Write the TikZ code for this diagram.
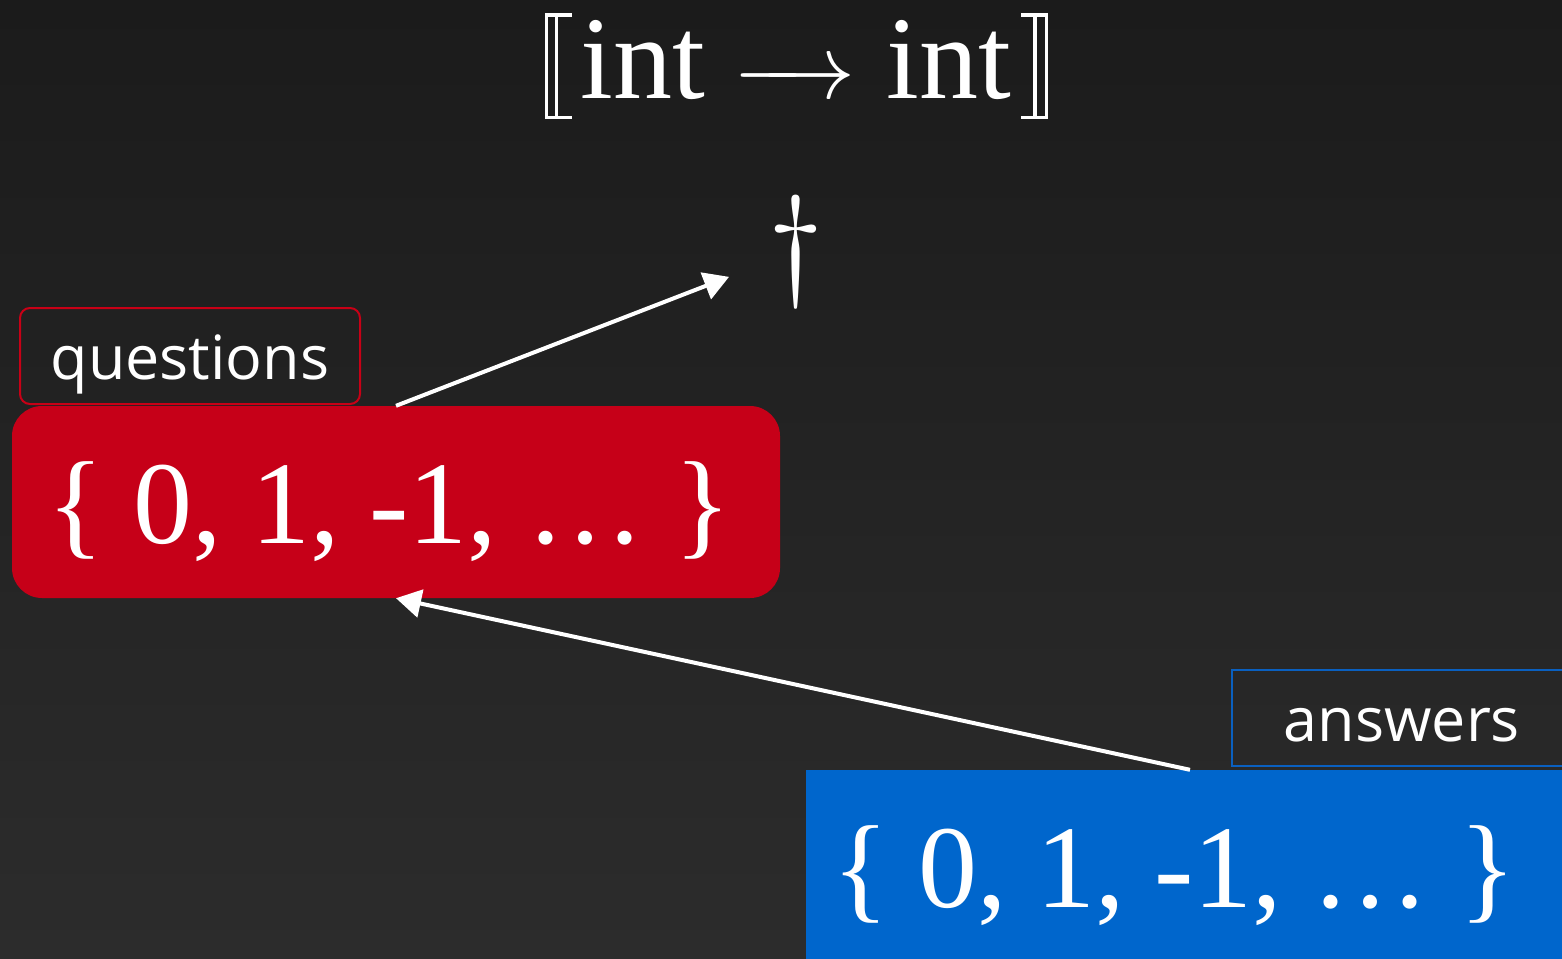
\RequirePackage{fix-cm}
\documentclass[tikz,border=0pt]{standalone}
\usepackage{fontspec}
\setmainfont{Liberation Serif}
\newfontfamily\lblfont{Open Sans}
\usetikzlibrary{arrows.meta}
\definecolor{bgtop}{RGB}{27,27,27}
\definecolor{bgbot}{RGB}{44,44,44}
\definecolor{qred}{RGB}{198,0,24}
\definecolor{qredline}{RGB}{200,0,22}
\definecolor{ablue}{RGB}{0,102,204}
\definecolor{abluel}{RGB}{10,96,192}
\tikzset{
  bigtext/.style={text=white,inner sep=0pt,font=\fontsize{118}{118}\selectfont},
  setbox/.style={inner sep=0pt,minimum width=768pt,minimum height=192pt,text=white,
    font=\fontsize{118}{118}\selectfont,text height=100pt,text depth=18pt},
  lblbox/.style={line width=2pt,inner sep=0pt,minimum width=340pt,minimum height=96pt,
    text=white,font=\lblfont\fontsize{61}{61}\selectfont,text height=46pt,text depth=0pt},
  brk/.style={draw=white,line width=3.5pt},
  arr/.style={draw=white,line width=4pt,-{Triangle[length=25pt,width=28pt]}}
}
\begin{document}
\begin{tikzpicture}[x=1pt,y=-1pt]
\useasboundingbox (0,0) rectangle (1562,958);
\clip (0,0) rectangle (1562,958);
\shade[top color=bgtop,bottom color=bgbot] (0,0) rectangle (1562,958);
% title
\draw[brk,line cap=butt] (572,15) -- (546.5,15) -- (546.5,117.5) -- (572,117.5);
\draw[brk] (556.5,15) -- (556.5,117.5);
\draw[brk,line cap=butt] (1021,15) -- (1046.5,15) -- (1046.5,117.5) -- (1021,117.5);
\draw[brk] (1035,15) -- (1035,117.5);
\node[bigtext,anchor=base west] (int1) at (580,98) {int};
\node[text=white,inner sep=0pt,anchor=base west,font=\fontsize{92}{92}\selectfont] (to) at (733,98) {$\relbar\mkern-8mu\rightarrow$};
\node[bigtext,anchor=base west] (int2) at (886,98) {int};
% dagger
\node[text=white,inner sep=0pt,anchor=base,font=\fontsize{124}{124}\selectfont] (dag) at (796,282) {$\dagger$};
% boxes
\node[setbox,fill=qred,rounded corners=30pt] (red) at (396,502) {\{ 0, 1, -1, … \}\rule{14pt}{0pt}};
\node[setbox,fill=ablue] (blue) at (1190,866) {\{ 0, 1, -1, … \}\rule{32pt}{0pt}};
% labels
\node[lblbox,draw=qredline,rounded corners=10pt] (qlab) at (190,356) {questions};
\node[lblbox,draw=abluel] (alab) at (1402,718) {answers};
% arrows
\draw[arr,shorten >=42pt] (red.north) -- (dag);
\draw[arr] (blue.north) -- (red.south);
\end{tikzpicture}
\end{document}
